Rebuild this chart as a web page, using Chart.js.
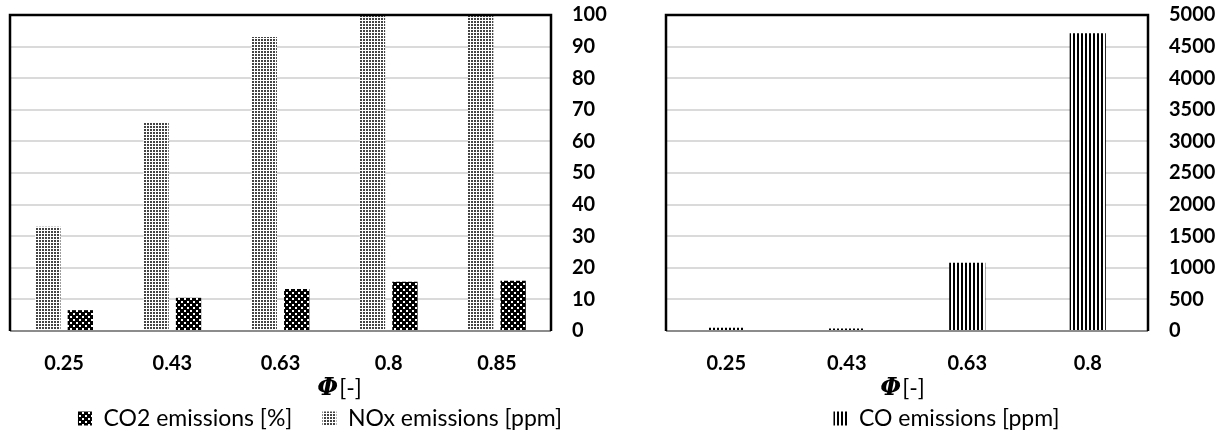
<!DOCTYPE html>
<html>
<head>
<title>Emissions vs equivalence ratio</title>
<script src="https://cdn.jsdelivr.net/npm/chart.js"></script>
<style>
    body {
        margin: 0;
        background: #ffffff;
        width: 1227px;
        height: 434px;
        overflow: hidden;
        position: relative;
    }
    .chart-box {
        position: absolute;
        top: 0;
        height: 440px;
    }
    #leftBox { left: 0; width: 630px; }
    #rightBox { left: 657px; width: 570px; }
</style>
</head>
<body>
<div class="chart-box" id="leftBox"><canvas id="leftChart"></canvas></div>
<div class="chart-box" id="rightBox"><canvas id="rightChart"></canvas></div>

<script>
    // data
    const phiLeft = ['0.25', '0.43', '0.63', '0.8', '0.85'];
    const noxPpm = [33, 66, 93, 100, 100];
    const co2Pct = [6.6, 10.5, 13.3, 15.6, 15.9];

    const phiRight = ['0.25', '0.43', '0.63', '0.8'];
    const coPpm = [50, 40, 1080, 4710];

    const leftTicks = { max: 100, step: 10 };
    const rightTicks = { max: 5000, step: 500 };

    const TICK_FONT = { family: "Lato, sans-serif", size: 20, weight: 'bold' };
    const LEGEND_FONT = { family: "Lato, sans-serif", size: 23 };

    // fill patterns (Excel style hatches)
    function dotPattern() {
        const c = document.createElement('canvas');
        c.width = 3; c.height = 3;
        const g = c.getContext('2d');
        g.fillStyle = '#ffffff';
        g.fillRect(0, 0, 3, 3);
        g.fillStyle = '#444444';
        g.fillRect(0, 0, 2, 2);
        return g.createPattern(c, 'repeat');
    }

    function checkPattern() {
        const c = document.createElement('canvas');
        c.width = 6; c.height = 6;
        const g = c.getContext('2d');
        g.fillStyle = '#000000';
        g.fillRect(0, 0, 6, 6);
        g.fillStyle = '#ffffff';
        g.fillRect(1, 1, 2, 2);
        g.fillRect(4, 4, 2, 2);
        return g.createPattern(c, 'repeat');
    }

    function stripePattern() {
        const c = document.createElement('canvas');
        c.width = 4; c.height = 4;
        const g = c.getContext('2d');
        g.fillStyle = '#ffffff';
        g.fillRect(0, 0, 4, 4);
        g.fillStyle = '#000000';
        g.fillRect(0, 0, 2, 4);
        return g.createPattern(c, 'repeat');
    }

    // frame round the plot area + the "Φ[-]" axis title
    const framePlugin = {
        id: 'frame',
        afterDraw(chart, args, opts) {
            const { ctx, chartArea: a } = chart;
            ctx.save();
            ctx.strokeStyle = '#8c8c8c';
            ctx.lineWidth = 2;
            ctx.beginPath();
            ctx.moveTo(a.left, a.bottom);
            ctx.lineTo(a.right, a.bottom);
            ctx.stroke();
            ctx.strokeStyle = '#000000';
            ctx.lineWidth = 2.5;
            ctx.beginPath();
            ctx.moveTo(a.left, a.bottom);
            ctx.lineTo(a.left, a.top);
            ctx.lineTo(a.right, a.top);
            ctx.lineTo(a.right, a.bottom);
            ctx.stroke();

            // axis title, Φ in bold italic serif then [-]
            const phiFont = "bold italic 24px 'DejaVu Serif', serif";
            const restFont = "23px Lato, sans-serif";
            ctx.font = phiFont;
            const w1 = ctx.measureText('Φ').width;
            ctx.font = restFont;
            const w2 = ctx.measureText('[-]').width;
            let x = opts.titleX - (w1 + w2) / 2;
            const y = a.bottom + 58;
            ctx.fillStyle = '#000000';
            ctx.textBaseline = 'middle';
            ctx.textAlign = 'left';
            ctx.font = phiFont;
            ctx.fillText('Φ', x, y);
            ctx.font = restFont;
            ctx.fillText('[-]', x + w1 + 1, y);
            ctx.restore();
        }
    };

    function buildOptions(ticks, padLeft, axisWidth, titleX, catPct, barPct) {
        return {
            responsive: true,
            maintainAspectRatio: false,
            animation: false,
            layout: { padding: { left: padLeft, right: 0, top: 15, bottom: 0 } },
            datasets: { bar: { categoryPercentage: catPct, barPercentage: barPct } },
            scales: {
                x: {
                    grid: { display: false, drawTicks: false },
                    border: { display: false },
                    ticks: { color: '#000000', font: TICK_FONT, padding: 21, maxRotation: 0 },
                    afterFit(scale) { scale.height = 46; }
                },
                y: {
                    position: 'right',
                    min: 0,
                    max: ticks.max,
                    grid: { color: '#dadada', lineWidth: 2, drawTicks: false },
                    border: { display: false },
                    ticks: {
                        stepSize: ticks.step,
                        color: '#000000',
                        font: TICK_FONT,
                        padding: 21,
                        callback: (v) => String(v)
                    },
                    afterFit(scale) {
                        scale.width = axisWidth;
                        scale.paddingTop = 0;
                        scale.paddingBottom = 0;
                    }
                }
            },
            plugins: {
                tooltip: { enabled: false },
                frame: { titleX: titleX },
                legend: {
                    position: 'bottom',
                    reverse: true,
                    labels: {
                        color: '#000000',
                        font: LEGEND_FONT,
                        boxWidth: 14,
                        boxHeight: 14,
                        padding: 30
                    }
                }
            }
        };
    }

    new Chart(document.getElementById('leftChart'), {
        type: 'bar',
        data: {
            labels: phiLeft,
            datasets: [
                { label: 'NOx emissions [ppm]', data: noxPpm, backgroundColor: dotPattern(), borderWidth: 0 },
                { label: 'CO2 emissions [%]', data: co2Pct, backgroundColor: checkPattern(), borderWidth: 0 }
            ]
        },
        options: buildOptions(leftTicks, 10, 79, 339, 0.6, 0.78),
        plugins: [framePlugin]
    });

    new Chart(document.getElementById('rightChart'), {
        type: 'bar',
        data: {
            labels: phiRight,
            datasets: [
                { label: 'CO emissions [ppm]', data: coPpm, backgroundColor: stripePattern(), borderWidth: 0 }
            ]
        },
        options: buildOptions(rightTicks, 9, 79, 245, 1.0, 0.3),
        plugins: [framePlugin]
    });
</script>
</body>
</html>
